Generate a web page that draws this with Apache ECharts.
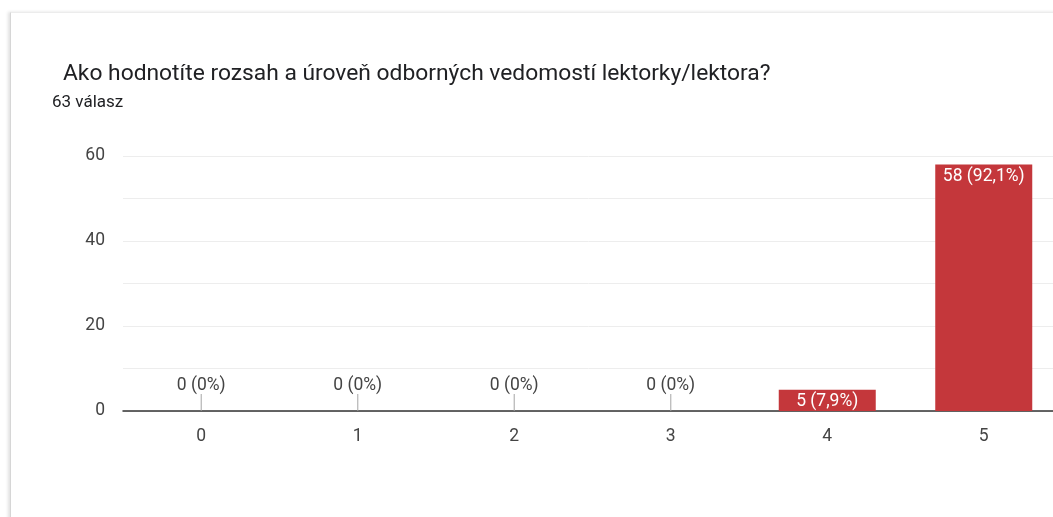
<!DOCTYPE html>
<html>
<head>
<meta charset="utf-8">
<script src="https://cdn.jsdelivr.net/npm/echarts@6/dist/echarts.min.js"></script>
<style>
  html, body { margin: 0; padding: 0; background: #fff; overflow: hidden; }
  #card {
    position: absolute; left: 10px; top: 12px; width: 1120px; height: 600px;
    border-left: 1px solid #d6d6d6; border-top: 1px solid #ececec;
    box-shadow: -2px 0 3px rgba(0,0,0,0.12);
  }
  #chart { position: absolute; left: 0; top: 0; width: 1053px; height: 517px; }
</style>
</head>
<body>
<div id="card"></div>
<div id="chart"></div>
<script>
// hodnotenie 0-5, počet odpovedí
const categories = ['0', '1', '2', '3', '4', '5'];
const counts = [0, 0, 0, 0, 5, 58];
const percents = ['0%', '0%', '0%', '0%', '7,9%', '92,1%'];
const yTicks = [0, 20, 40, 60];

const chart = echarts.init(document.getElementById('chart'));
const font = 'Roboto, Arial, sans-serif';

chart.setOption({
  animation: false,
  title: [
    {
      text: 'Ako hodnotíte rozsah a úroveň odborných vedomostí lektorky/lektora?',
      left: 58, top: 58,
      textStyle: { fontFamily: font, fontSize: 22.8, fontWeight: 'normal', color: '#202124' },
    },
    {
      text: '63 válasz',
      left: 47, top: 89,
      textStyle: { fontFamily: font, fontSize: 17, fontWeight: 'normal', color: '#202124' },
    },
  ],
  grid: { left: 123, top: 156, width: 939, height: 255, outerBoundsMode: 'none', containLabel: false },
  xAxis: {
    type: 'category',
    data: categories,
    axisLine: { lineStyle: { color: '#333', width: 1.5 } },
    axisTick: { show: false },
    axisLabel: { color: '#444', fontFamily: font, fontSize: 17.5, margin: 17 },
  },
  yAxis: {
    type: 'value',
    min: 0, max: 60, interval: 10,
    axisLine: { show: false },
    axisTick: { show: false },
    axisLabel: {
      color: '#444', fontFamily: font, fontSize: 17.5, margin: 18,
      formatter: v => (yTicks.includes(v) ? String(v) : ''),
    },
    splitLine: { lineStyle: { color: '#ededed', width: 1 } },
  },
  series: [
    {
      type: 'bar',
      barWidth: 97,
      itemStyle: { color: '#c4373b' },
      data: counts.map(v => ({
        value: v,
        label: v === 0
          ? { position: 'top', distance: 16, color: '#444' }
          : { position: 'insideTop', distance: 3, color: '#fff' },
      })),
      label: {
        show: true,
        fontFamily: font,
        fontSize: 17.5,
        formatter: p => `${p.value} (${percents[p.dataIndex]})`,
      },
      z: 2,
    },
    {
      // malá zvislá čiarka pri nulových hodnotách
      type: 'scatter',
      symbol: 'rect',
      symbolSize: [1.2, 17],
      symbolOffset: [0, -8.5],
      itemStyle: { color: '#a0a0a0' },
      data: counts.map(v => (v === 0 ? 0 : '-')),
      silent: true,
      z: 3,
    },
  ],
});
</script>
</body>
</html>
